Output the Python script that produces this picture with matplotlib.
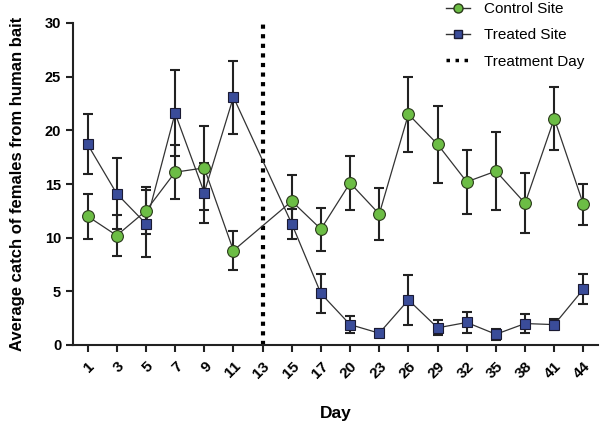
import matplotlib
matplotlib.use("Agg")
import matplotlib.pyplot as plt
from matplotlib.lines import Line2D
import numpy as np

plt.rcParams['font.family'] = ['Liberation Sans', 'DejaVu Sans']

days = ["1", "3", "5", "7", "9", "11", "13", "15", "17", "20", "23", "26",
        "29", "32", "35", "38", "41", "44"]
control_mean = [12.0, 10.2, 12.5, 16.1, 16.5, 8.8, None, 13.4, 10.8, 15.1, 12.2,
                21.5, 18.7, 15.2, 16.2, 13.2, 21.1, 13.1]
control_err = [2.1, 1.9, 2.2, 2.5, 3.9, 1.8, None, 2.4, 2.0, 2.5, 2.4,
               3.5, 3.6, 3.0, 3.6, 2.8, 2.9, 1.9]
treated_mean = [18.7, 14.1, 11.3, 21.6, 14.2, 23.1, None, 11.3, 4.8, 1.9, 1.1,
                4.2, 1.6, 2.1, 1.0, 2.0, 1.9, 5.2]
treated_err = [2.8, 3.3, 3.1, 4.0, 2.8, 3.4, None, 1.4, 1.8, 0.8, 0.4,
               2.3, 0.7, 1.0, 0.5, 0.9, 0.5, 1.4]
treatment_day = "13"

fig = plt.figure(figsize=(6.01, 4.28), dpi=100)
ax = fig.add_axes([73/601, 1-345/428, (598-73)/601, (345-23)/428])

x_all = np.arange(len(days))
def valid(m, e):
    idx = [i for i, v in enumerate(m) if v is not None]
    return (np.array(idx), np.array([m[i] for i in idx]), np.array([e[i] for i in idx]))

green = '#6cbd45'
blue = '#3a4c99'

xc, yc, ec = valid(control_mean, control_err)
xt, yt, et = valid(treated_mean, treated_err)

ax.errorbar(xc, yc, yerr=ec, fmt='none', ecolor='#222222', elinewidth=1.5,
            capsize=3.5, capthick=1.5, zorder=2)
ax.errorbar(xt, yt, yerr=et, fmt='none', ecolor='#222222', elinewidth=1.5,
            capsize=3.5, capthick=1.5, zorder=2)
ax.plot(xc, yc, '-', color='#333333', lw=0.9, zorder=3)
ax.plot(xt, yt, '-', color='#333333', lw=0.9, zorder=3)
ax.plot(xc, yc, 'o', ms=8.5, mfc=green, mec='#2a3a1a', mew=0.8, ls='none', zorder=4)
ax.plot(xt, yt, 's', ms=6.5, mfc=blue, mec='#1a1a33', mew=0.8, ls='none', zorder=5)

td = days.index(treatment_day)
ax.plot([td, td], [0, 30.3], color='black', lw=3, ls=(0, (1, 1.3)), zorder=1,
        clip_on=False)

ax.set_xlim(-0.5, 17.5)
ax.set_ylim(0, 30)
ax.set_xticks(x_all)
ax.set_xticklabels(days, rotation=45, ha='right', rotation_mode='anchor',
                   fontsize=11, fontweight='bold')
ax.set_yticks([0, 5, 10, 15, 20, 25, 30])
ax.set_yticklabels(['0', '5', '10', '15', '20', '25', '30'], fontsize=10.5,
                   fontweight='bold')
for s in ['top', 'right']:
    ax.spines[s].set_visible(False)
for s in ['left', 'bottom']:
    ax.spines[s].set_linewidth(1.5)
    ax.spines[s].set_color('#222222')
ax.tick_params(axis='both', width=1.5, length=5, color='#222222')
ax.tick_params(axis='x', pad=5)
ax.set_xlabel('Day', fontsize=12.5, fontweight='bold', labelpad=18)
ax.set_ylabel('Average catch of females from human bait', fontsize=12,
              fontweight='bold', labelpad=14)

handles = [
    Line2D([], [], color='#333333', lw=1, marker='o', ms=6.5, mfc=green, mec='#2a3a1a'),
    Line2D([], [], color='#333333', lw=1, marker='s', ms=5.5, mfc=blue, mec='#1a1a33'),
    Line2D([], [], color='black', lw=2.5, ls=(0, (1, 1.6))),
]
fig.legend(handles, ['Control Site', 'Treated Site', 'Treatment Day'],
           loc='upper left', bbox_to_anchor=(432/601, 1.027), frameon=False,
           fontsize=11, handlelength=1.6, labelspacing=0.8, handletextpad=0.9)

fig.savefig('out.png', dpi=100)
